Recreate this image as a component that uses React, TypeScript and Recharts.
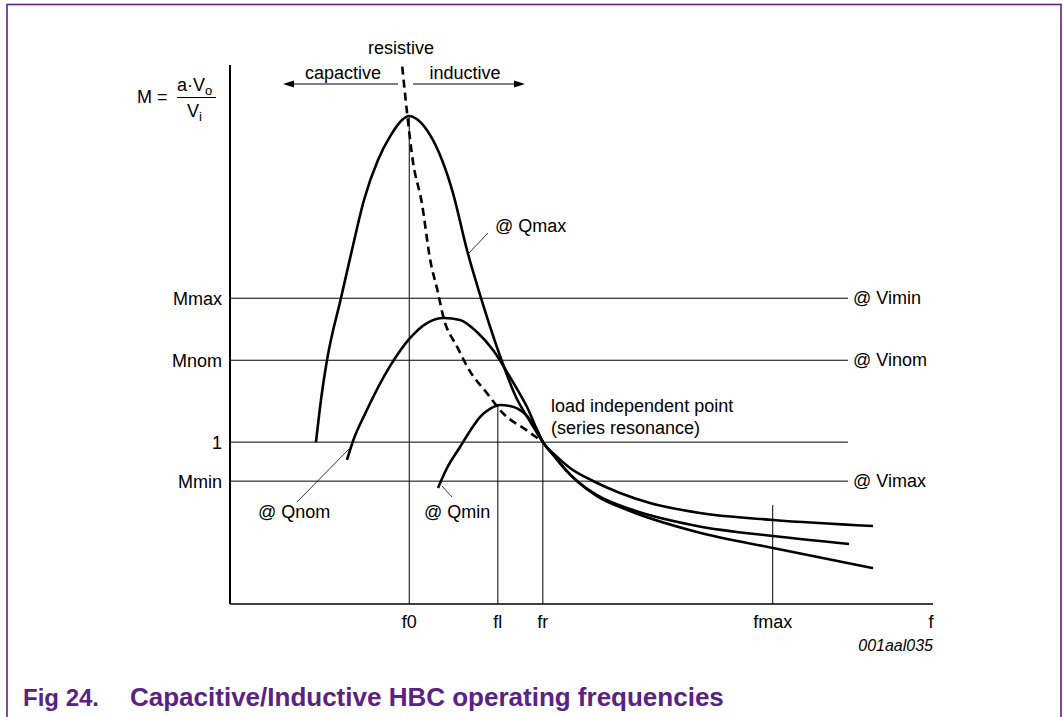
import React from 'react';
import { ComposedChart, Line, XAxis, YAxis, ReferenceLine } from 'recharts';

const W = 1063;
const H = 717;
const FONT = '"Liberation Sans", Arial, Helvetica, sans-serif';
const PURPLE = '#5a2283';
const FS = 18;

// x: normalized frequency, y: gain M
const xTickValues = [2.55, 3.81, 4.45, 7.72, 9.97];
const xTickLabels = ['f0', 'fl', 'fr', 'fmax', 'f'];
const yTickValues = [0.759, 1, 1.506, 1.889];
const yTickLabels = ['Mmin', '1', 'Mnom', 'Mmax'];

const qmaxF = [1.223, 1.294, 1.38, 1.579, 1.735, 1.906, 2.105, 2.29, 2.447, 2.546, 2.674, 2.845, 3.016, 3.172, 3.371, 3.57, 3.826, 4.068, 4.282, 4.452, 4.623, 4.765, 4.936, 5.221, 5.69, 6.643, 7.724, 9.147];
const qmaxM = [1.0, 1.26, 1.507, 1.891, 2.187, 2.496, 2.743, 2.898, 2.99, 3.015, 2.99, 2.898, 2.743, 2.539, 2.187, 1.891, 1.551, 1.279, 1.118, 1.0, 0.908, 0.834, 0.76, 0.667, 0.575, 0.445, 0.346, 0.222];

const qnomF = [1.664, 1.75, 1.92, 2.276, 2.56, 2.802, 3.044, 3.272, 3.513, 3.741, 3.983, 4.225, 4.452, 4.623, 4.765, 4.936, 5.221, 5.69, 6.643, 7.724, 8.805];
const qnomM = [0.89, 1.007, 1.174, 1.47, 1.643, 1.736, 1.767, 1.755, 1.68, 1.569, 1.402, 1.217, 1.0, 0.908, 0.834, 0.76, 0.673, 0.587, 0.482, 0.42, 0.371];

const qminF = [2.959, 3.087, 3.272, 3.414, 3.556, 3.698, 3.841, 3.983, 4.097, 4.225, 4.367, 4.452, 4.623, 4.836, 5.164, 5.548, 5.974, 6.686, 7.724, 9.147];
const qminM = [0.717, 0.84, 0.97, 1.069, 1.155, 1.205, 1.229, 1.223, 1.205, 1.162, 1.075, 1.0, 0.921, 0.84, 0.76, 0.686, 0.624, 0.562, 0.519, 0.482];

const resF = [2.45, 2.52, 2.6, 2.73, 2.85, 2.95, 3.04, 3.23, 3.41, 3.66, 3.88, 4.23, 4.452];
const resM = [3.32, 3.03, 2.74, 2.475, 2.12, 1.94, 1.765, 1.59, 1.44, 1.3, 1.18, 1.07, 1.0];

// horizontal level lines (Mmax, Mnom, 1, Mmin) end
const levelValues = [1.889, 1.506, 1, 0.759];
const levelEnd = 8.79;
// vertical marker lines: x and top
const markerX = [2.55, 3.81, 4.45, 7.72];
const markerTop = [3.015, 1.229, 1.0, 0.611];

const toData = (fs: number[], ms: number[]) => fs.map((f, i) => ({ f, m: ms[i] }));

const qmax = toData(qmaxF, qmaxM);
const qnom = toData(qnomF, qnomM);
const qmin = toData(qminF, qminM);
const res = toData(resF, resM);

const fmtX = (v: number) => {
  const i = xTickValues.indexOf(v);
  return i >= 0 ? xTickLabels[i] : '';
};
const fmtY = (v: number) => {
  const i = yTickValues.indexOf(v);
  return i >= 0 ? yTickLabels[i] : '';
};

const T = (props: any) => (
  <text fontFamily={FONT} fontSize={FS} fill="#000" dominantBaseline="central" {...props} />
);

export default function App() {
  return (
    <div style={{ position: 'absolute', left: 0, top: 0, width: W, height: H, background: '#fff', overflow: 'hidden' }}>
      <ComposedChart width={W} height={H} margin={{ top: 65, right: 130, bottom: 83, left: 170 }}>
        <XAxis
          dataKey="f"
          type="number"
          domain={[0, 10]}
          allowDataOverflow
          ticks={xTickValues}
          interval={0}
          tickFormatter={fmtX}
          tickSize={0}
          tickMargin={11}
          axisLine={{ stroke: '#000', strokeWidth: 1.5 }}
          tick={{ fill: '#000', fontSize: FS, fontFamily: FONT }}
          height={30}
        />
        <YAxis
          type="number"
          domain={[0, 3.33]}
          allowDataOverflow
          ticks={yTickValues}
          interval={0}
          tickFormatter={fmtY}
          tickSize={0}
          tickMargin={8}
          axisLine={{ stroke: '#000', strokeWidth: 2 }}
          tick={{ fill: '#000', fontSize: FS, fontFamily: FONT }}
          width={60}
        />
        {levelValues.map((y) => (
          <ReferenceLine
            key={'h' + y}
            segment={[{ x: 0, y }, { x: levelEnd, y }]}
            stroke="#000"
            strokeWidth={1}
            ifOverflow="visible"
          />
        ))}
        {markerX.map((x, i) => (
          <ReferenceLine
            key={'v' + x}
            segment={[{ x, y: 0 }, { x, y: markerTop[i] }]}
            stroke="#000"
            strokeWidth={1}
            ifOverflow="visible"
          />
        ))}
        <Line data={qmax} dataKey="m" type="monotone" stroke="#000" strokeWidth={2.6} dot={false} isAnimationActive={false} />
        <Line data={qnom} dataKey="m" type="monotone" stroke="#000" strokeWidth={2.6} dot={false} isAnimationActive={false} />
        <Line data={qmin} dataKey="m" type="monotone" stroke="#000" strokeWidth={2.6} dot={false} isAnimationActive={false} />
        <Line data={res} dataKey="m" type="monotone" stroke="#000" strokeWidth={2.6} strokeDasharray="8 5" dot={false} isAnimationActive={false} />
      </ComposedChart>
      <svg width={W} height={H} style={{ position: 'absolute', left: 0, top: 0, pointerEvents: 'none' }}>
        <rect x={7} y={4.5} width={1054} height={800} fill="none" stroke={PURPLE} strokeWidth={1.6} />
        {/* formula */}
        <T x={137} y={97}>M =</T>
        <text x={177} y={91} fontFamily={FONT} fontSize={FS} fill="#000">
          a·V<tspan fontSize={13} dy={4}>o</tspan>
        </text>
        <line x1={177} y1={97.5} x2={216} y2={97.5} stroke="#000" strokeWidth={1} />
        <text x={187} y={117} fontFamily={FONT} fontSize={FS} fill="#000">
          V<tspan fontSize={13} dy={4}>i</tspan>
        </text>
        {/* region labels */}
        <T x={401} y={48} textAnchor="middle">resistive</T>
        <T x={343} y={73} textAnchor="middle">capactive</T>
        <T x={465} y={73} textAnchor="middle">inductive</T>
        <line x1={292} y1={84} x2={398} y2={84} stroke="#000" strokeWidth={1} />
        <polygon points="283,84 294,80.5 294,87.5" fill="#000" />
        <line x1={413} y1={84} x2={516} y2={84} stroke="#000" strokeWidth={1} />
        <polygon points="525,84 514,80.5 514,87.5" fill="#000" />
        {/* curve annotations */}
        <T x={495} y={226}>@ Qmax</T>
        <line x1={488} y1={233} x2={468} y2={254} stroke="#000" strokeWidth={0.8} />
        <T x={258} y={512}>@ Qnom</T>
        <line x1={297} y1={502} x2={349} y2={449} stroke="#000" strokeWidth={0.8} />
        <T x={424} y={512}>@ Qmin</T>
        <line x1={442} y1={486} x2={452} y2={497} stroke="#000" strokeWidth={0.8} />
        <T x={551} y={406}>load independent point</T>
        <T x={551} y={428}>(series resonance)</T>
        <T x={853} y={298}>@ Vimin</T>
        <T x={853} y={360}>@ Vinom</T>
        <T x={853} y={481}>@ Vimax</T>
        <T x={933} y={645} textAnchor="end" fontStyle="italic" fontSize={16}>001aal035</T>
        <text x={23} y={706} fontFamily={FONT} fontSize={24} fontWeight="bold" fill={PURPLE}>
          Fig 24.
        </text>
        <text x={130} y={706} fontFamily={FONT} fontSize={26} fontWeight="bold" fill={PURPLE}>
          Capacitive/Inductive HBC operating frequencies
        </text>
      </svg>
    </div>
  );
}
